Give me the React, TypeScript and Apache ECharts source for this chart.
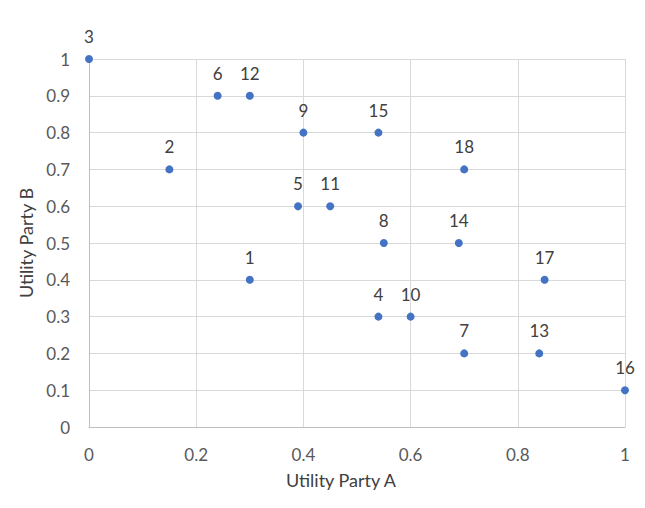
import React, { useEffect, useRef } from "react";
import * as echarts from "echarts";

const pointIds = ["1","2","3","4","5","6","7","8","9","10","11","12","13","14","15","16","17","18"];
const utilityA = [0.3, 0.15, 0, 0.54, 0.39, 0.24, 0.7, 0.55, 0.4, 0.6, 0.45, 0.3, 0.84, 0.69, 0.54, 1, 0.85, 0.7];
const utilityB = [0.4, 0.7, 1, 0.3, 0.6, 0.9, 0.2, 0.5, 0.8, 0.3, 0.6, 0.9, 0.2, 0.5, 0.8, 0.1, 0.4, 0.7];
const xTitle = "Utility Party A";
const yTitle = "Utility Party B";

export default function App() {
  const ref = useRef<HTMLDivElement>(null);
  useEffect(() => {
    document.body.style.margin = "0";
    const chart = echarts.init(ref.current!, null, { renderer: "svg" });
    const font = "Lato, 'Open Sans', sans-serif";
    const data = pointIds.map((id, i) => ({ value: [utilityA[i], utilityB[i]], name: id }));
    chart.setOption({
      animation: false,
      backgroundColor: "#ffffff",
      grid: { left: 89, right: 20, top: 59, bottom: 81 },
      xAxis: {
        type: "value",
        min: 0,
        max: 1,
        interval: 0.2,
        name: xTitle,
        nameLocation: "middle",
        nameGap: 44,
        nameTextStyle: { color: "#404040", fontSize: 18, fontFamily: font, padding: [0, 32, 0, 0] },
        axisLine: { show: true, lineStyle: { color: "#bfbfbf" } },
        axisTick: { show: false },
        splitLine: { show: true, lineStyle: { color: "#d9d9d9" } },
        axisLabel: { color: "#595959", fontSize: 17, fontFamily: font, margin: 19 },
      },
      yAxis: {
        type: "value",
        min: 0,
        max: 1,
        interval: 0.1,
        name: yTitle,
        nameLocation: "middle",
        nameGap: 52,
        nameTextStyle: { color: "#404040", fontSize: 18, fontFamily: font },
        axisLine: { show: true, lineStyle: { color: "#bfbfbf" } },
        axisTick: { show: false },
        splitLine: { show: true, lineStyle: { color: "#d9d9d9" } },
        axisLabel: { color: "#595959", fontSize: 17, fontFamily: font, margin: 19 },
      },
      series: [
        {
          type: "scatter",
          data,
          symbol: "circle",
          symbolSize: 8,
          itemStyle: { color: "#4472c4", opacity: 1 },
          label: {
            show: true,
            position: "top",
            distance: 10,
            formatter: (p: any) => p.name,
            color: "#404040",
            fontSize: 17,
            fontFamily: font,
          },
        },
      ],
    });
    return () => chart.dispose();
  }, []);
  return <div ref={ref} style={{ width: 645, height: 508 }} />;
}
